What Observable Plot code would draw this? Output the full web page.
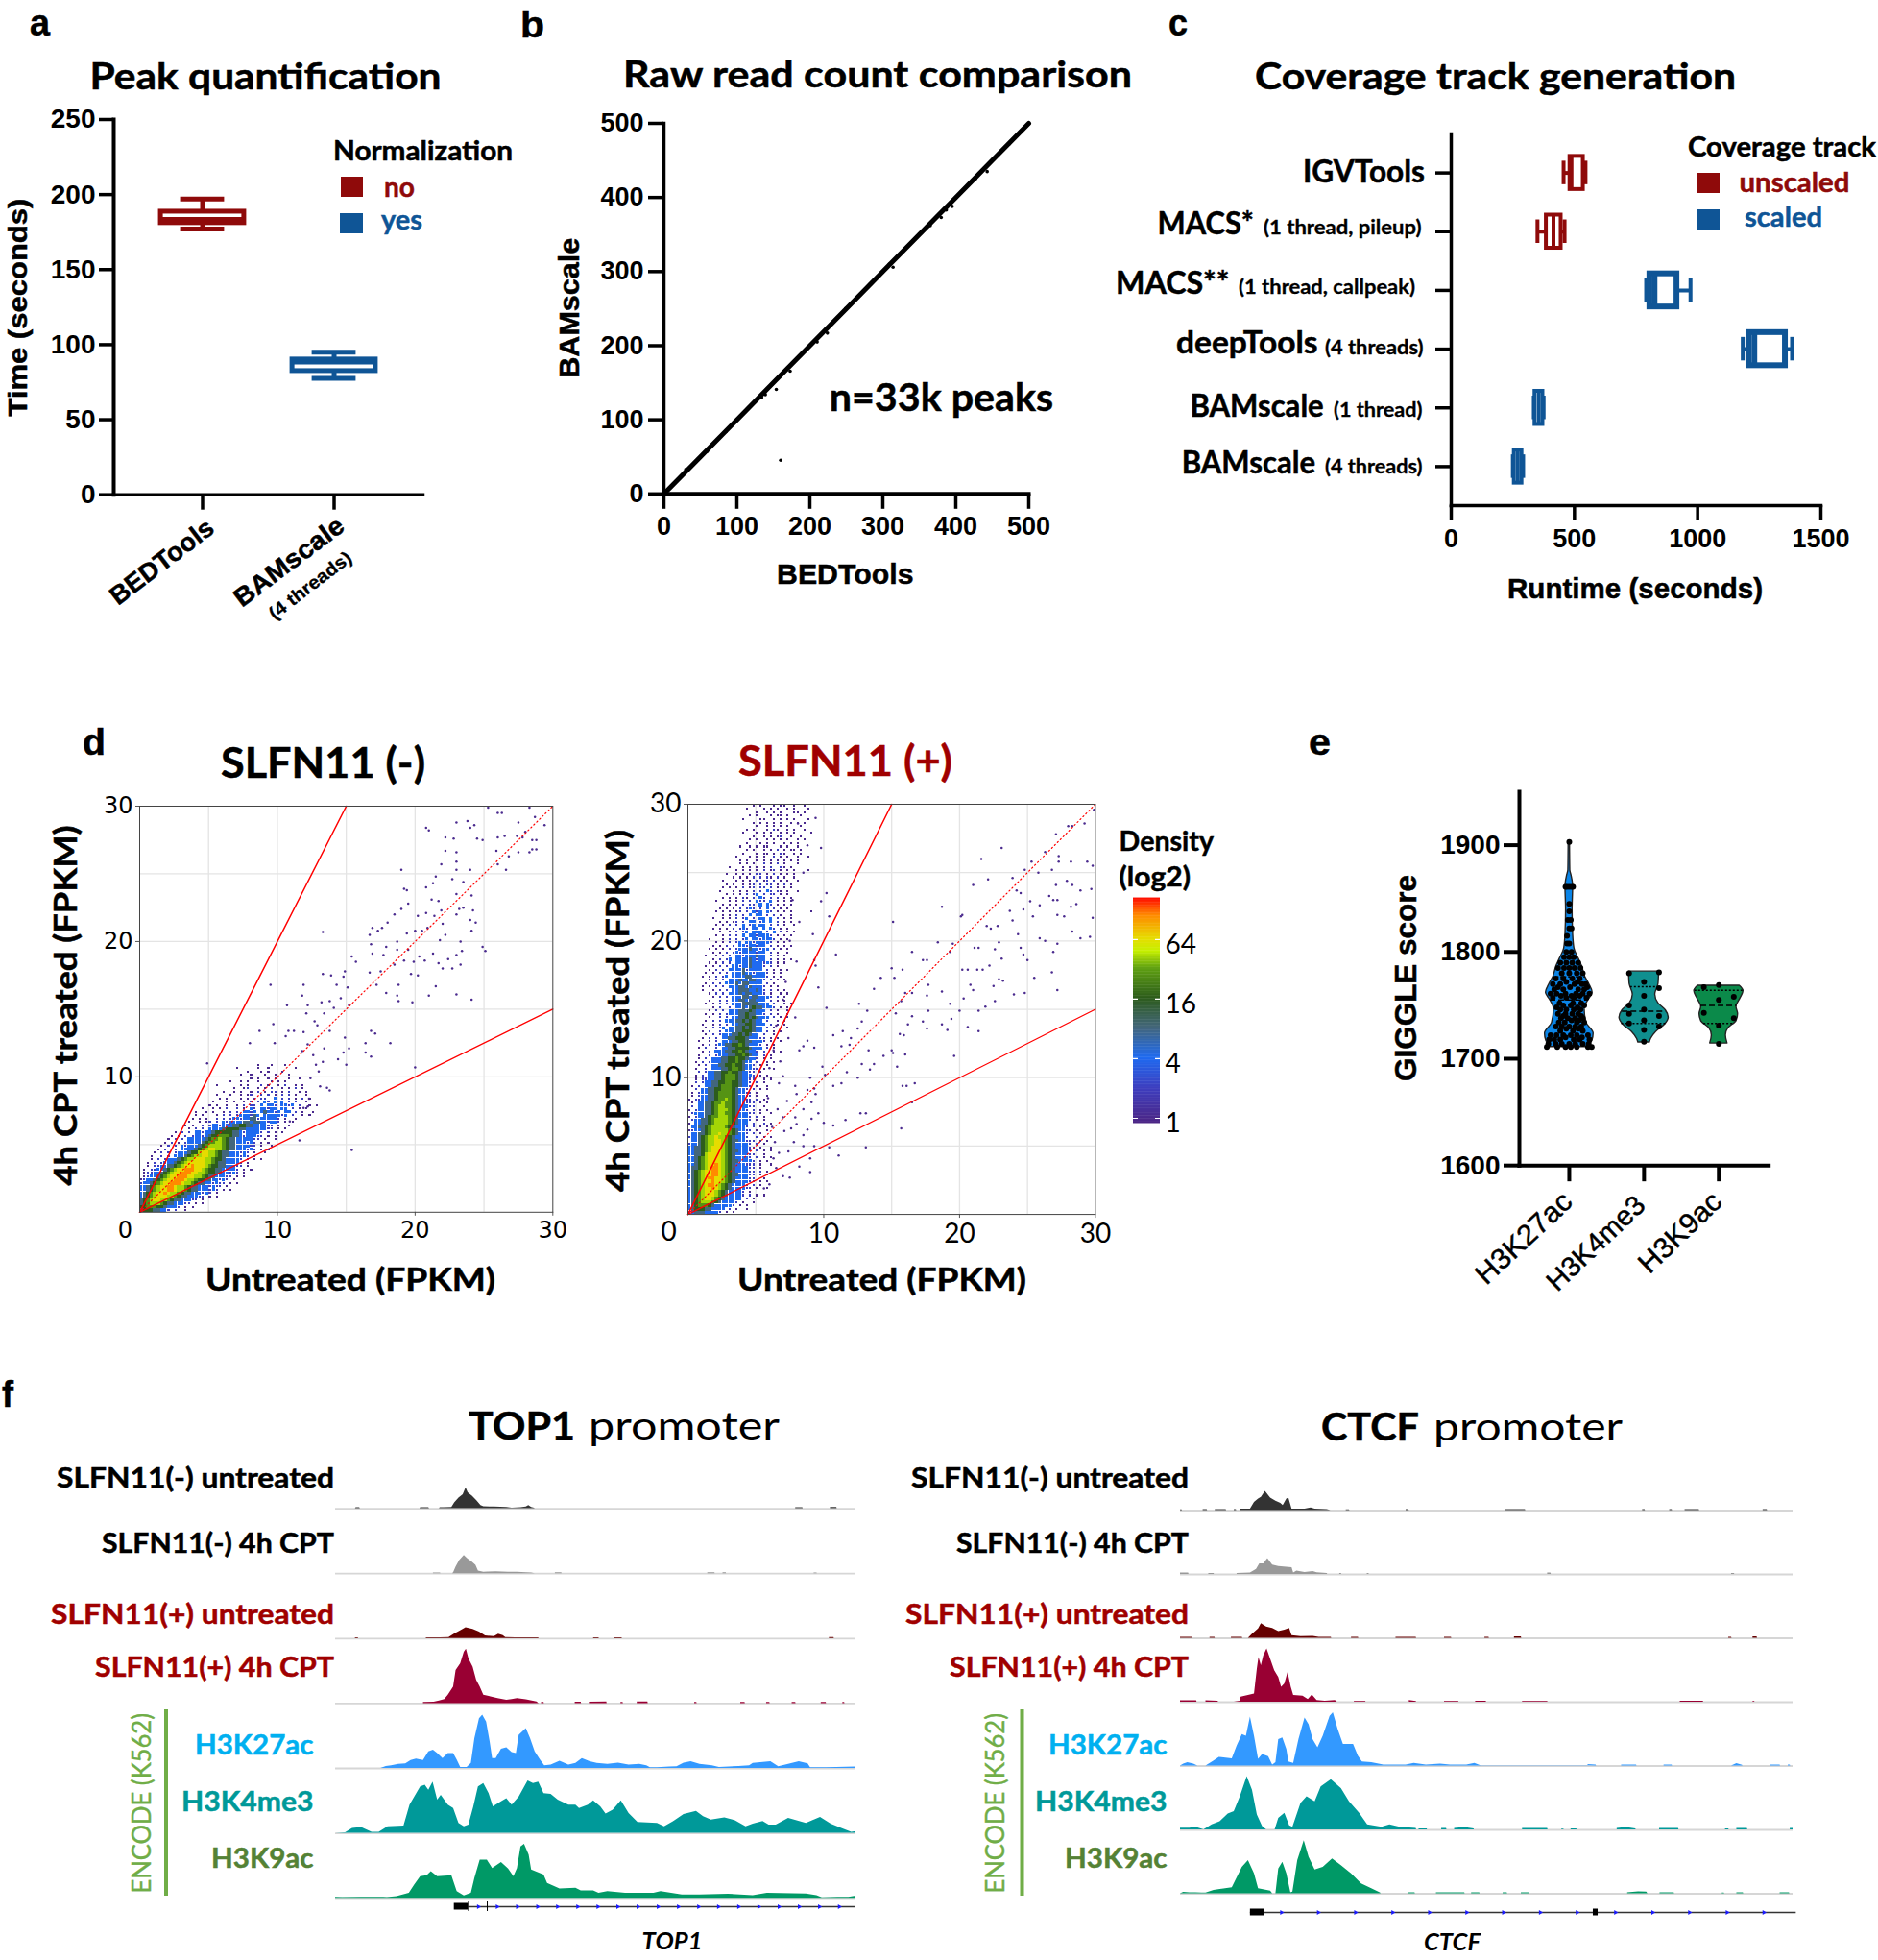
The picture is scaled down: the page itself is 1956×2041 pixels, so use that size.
<!DOCTYPE html>
<html><head><meta charset="utf-8">
<script src="https://cdn.jsdelivr.net/npm/d3@7"></script>
<script src="https://cdn.jsdelivr.net/npm/@observablehq/plot@0.6"></script>
<style>html,body{margin:0;background:#fff}#page{position:relative;width:1956px;height:2041px;overflow:hidden;background:#fff}#page svg{position:absolute;overflow:visible;background:transparent}</style>
</head><body><div id="page"></div>
<script>
// ---------- a: peak quantification ----------
const peakTools=["BEDTools","BAMscale"];
const peakNorm=["no","yes"];
const peakMin=[177,77.6], peakQ1=[181,82.4], peakMed=[183.5,88.5], peakQ3=[188.6,90.1], peakMax=[197,95];
// ---------- b: read count comparison ----------
const diagBed=[0,50,100,150,200,250,300,350,400,450,500];
const diagBam=[0,50,100,150,200,250,300,350,400,450,500];
const countOutliers=[[154,141],[160,45.5],[173,165.6],[171,171],[134,130],[139,134],[224,217],[210,205],[314,306],[309,310],[380,373],[387,383],[395,388],[365,362],[443,435],[427,425],[473,472],[85,84],[59,57],[30,33],[249,250],[285,285]];
// ---------- c: coverage track generation ----------
const covTools=["IGVTools","MACS*","MACS**","deepTools","BAMscale1","BAMscale4"];
const covGroup=["unscaled","unscaled","scaled","scaled","scaled","scaled"];
const covMin=[456,350,791,1183,335,250], covQ1=[482,386,806,1208,340,256], covMed=[488,415,825,1230,355,270], covQ3=[536,446,916,1356,372,287], covMax=[545,460,971,1383,375,292];
// ---------- d: density scatter ----------
const densityLevels=[1,2,4,8,16,28,42,64,110];
const densityStops=[1,2,4,8,16,32,48,64,110,170];
const densityColors=["#4a2a8e","#3d3fc0","#1f6af0","#43667c","#2d5c1c","#5fa012","#c6f000","#e6dc00","#ff8a00","#ff0000"];
const densityTicks=[1,4,16,64];
const leftGrid=[
"..................................1...1...1......",
"............................1.....1..1.......1..",
"...............................1...1.1...1......",
".............................1..1...1..1...1....",
"................................1.1..1.1...1..1.",
"..........................1..1.1..1...1.1.1.....",
"......................1......1.1...2.1..1.2..1.1",
"...........................1..12..1.1.2..1.1.2.1.",
"........................1..1.1..1.2.1.22.1.2..1.1",
"......................1...1..1.12..2.2.1.2.2.1..1",
".......................1.1...1.1.2.22..3.2.2.1.2.1",
".....................1...1.1..1.2.2.32.3.3.2.2..1",
"....................1.1..1..1.2.22.3.332.3323.2..1.1",
"..................1..1.1.2..2.1.32.33233.33.2.1.1",
"................1..1.1..1.2.2.3323.343323.33.2.1..1",
"................1.1...1.2.2.2333243.3333323.2..1.1",
"...............1.1.1..2.2.233233442333332.1..1",
"..............1..1.12.2.32333344344332332.1.1",
".............1.1..2.2332333445544333322.1..1",
"..............1.2.2.3333455554433333322.1.1",
"..........1.2.2.33233455555443233332.2.1.1",
".........1.1.2.233234556665443233322.1.1",
"........1.2.2.333334566765443333322.1..1",
".......1.2.1.233334566776544333232.1.1",
"......1.2.2.3233345677776544333322.1..1",
".....1.2..2.33334567887765443332 32.1.1",
"....1.2.2.2333455788776544333232.1..1",
"...1..2.2.3334567788776544333232.1",
"...1.2.2333456778887765543333 2.2.1.1",
"..1.2.233345678888877654433332.1",
"..1.22334456788988876554433322.1",
".1.22334567889998876554433332.1.1",
".1223345678899988776554433232.1",
".1233456788999887765443332 2.1.1",
"12334567889998776554433232.1",
"23345678899987765443323 22.1.1",
"33456788998776544333 2322.1",
"33456788998776544333232.1.1",
"3456788987765443332 32.1",
"34567888776544333 22.1.1",
"4567887765443332 2.1",
"456777654433322.1.1",
"556665543332.1.1",
"455544332.2..1"
].map(s=>s.replaceAll(" ",""));
const rightGrid=[
"...................1.1...1.11..1..1..",
".................1....1.1.1..1.1...1.",
"....................1..1.1.1...11.1..",
"..................1.1...1.11.1...1...",
"................1....11..1.1.1.1...1.",
"...................1.1.1.1.1..1.1.1..",
"....................1..1.1.1.1...1...",
".................1.1...1.21..1.1..1..",
"................1...1.1.1..1.1.1....1",
"...................1..1.1.12..1..1...",
"..................1.1..1.1.1.1..1.1..",
".................1...1.1.1..1.1.1....",
"...............1..1.1.11...1.1..1....",
".................1.1..1.1.2.1.11.1...",
"................1...1.11.1.21..1.1...",
"..............1...1.1.1..2.1.1..1..1.",
"...............1.1..1.1.1.1.1.1.1....",
"...............1.1.1..2.1.2.1...1....",
"............1...1.1.1.1.2..21.1......",
"..............1.1.1.1.2.12.1.1.1...1.",
"...........1..1.1.1.22.1.2.1.1.1.....",
".............1.1.1.2.2.21.2.1..1.....",
"..........1...1.1.1.2.12.2.1.1..1....",
"...........1.1..1.12.2.22.1.2.1......",
"..........1.1.1.2.12.22.2.1.1.1......",
".........1...1.1.1.2.2.32.21.1..1....",
"...........1.1.1.2.23.2.22.1.1.......",
"..........1.1.1.21.2.32.2.2.1.1......",
"........1...1.1.2.2.322.3.1.1.1......",
"..........1.1.1.2.22.3.32.1.1.1......",
".........1.1.1.2.232.2.3.2.1.1.......",
"........1.1.1.12.2.323.32.1.1.1.....1",
"..........1.1.2.2.3.33.2.2.1..1......",
".......1..1.1.2.23.2.33.3.2.1.1......",
".........1.1.12.2.33.23.3.2.1.1......",
"........1.1.2.2.3.23.33.2.2.1..1.....",
".......1.1.1.2.232.33.3.32.1.1.......",
".........1..1.2.23.333.2.3.2.1.1.....",
"........1.1.2.2.3.3323332.1.1.1......",
"......1...1.2.2.23.3323332.1.1.......",
"........1.1.2.23.33233332.1.1........",
".......1.1.2.2.33233233.2.1.1.1......",
"......1.1.1.2.2333433233.2.1.1.......",
".......1.1.2.2323333233.2.1..1.......",
".....1..1.2.2.332333433.2.1.1........",
".......1.2.23.333343233.2.1.1.1......",
"......1.1.2.2.33334333232.1.1........",
".....1.1.2.2.3323343332.2.1..........",
"......1.2.2.3333423333.2.1.1.1.......",
".....1.1.2.2.33343323332.1.1.........",
"....1.1.2.23.33334433332.1.1.........",
"......1.2.2.33343344332.2.1.1........",
".....1.2.2.33343443333.2.1...........",
"....1.1.2.2.3334434333 2.1.1.........",
"....1..1.2.2.3344433432.2.1.1........",
"......1.2.2.33343443332.1..1.1.......",
".......1.2.2.333443443332.2.1........",
"......1..2.2.3344344333.2.1.1........",
".....1.1.2.2.33344444333.2..1.1......",
".......1.2..2.334345443332.1.1.......",
"......1.2.2.33344454333.2.1..1.......",
".....1.1.2.233344544332.2.1..1.......",
"......1..2.2.33445454333.2.1.1.......",
".....1.2.2.33344545433.2..1.1........",
"....1..1.2.2.3344554333.2.1.1........",
".....1.2.23.3344545433.2.1...1.......",
"....1.2..2.33344555433.2.1.1.........",
".....1.2.233344545433.2..1...........",
"....1.2.2.3344555433322.1.1..........",
"...1..1.2.3334455443332.1..1.........",
"....1.2.23344556543332.1.1...........",
"...1.2..2.334455554333.2.1...........",
"....1.2.3334455654332.2..1.1.........",
"...1..2.2333445565433.2.1............",
"...1.2.33344556554332.1.1............",
"..1.2.2333445565433.2..1.1...........",
"...1.2.3344556554332.1.1.............",
"..1..2.33344566543322.1..1...........",
"...2.233445565543322.1...............",
"..1.2.33445666543332.1.1.............",
"..1.2233445666543322..1.1............",
"..2.233445566554332.2.1..............",
".1.2.33445666554332.1..1.............",
"..2.33445566654332.2.1.1.............",
".1.2334456666543322.1................",
".1.2334456666543322.1..1.............",
"1.22334456676543322.2.1..............",
".1.33445667665433222.1.1.............",
".2.33445677665433322..1..............",
"1.2334456777654332.2.1.1.............",
".2333445677665433322.1..1............",
"1.23345667776543332.2.1..............",
".233445677776543332.1.1..............",
"1.3344567777654333.2..2.1............",
".33445677776543332.2.1.1.............",
"1233456777776543322.1..1.............",
".33445677877654332.2.1...............",
"233456778776543332..2.1.1............",
".3345677887654433222.1.1.............",
"2334567788765433332.2.1..............",
"33445678887654333322.1..1............",
"3344567888765443332.2.1.1............",
"33445788887654333322..1..............",
"3345678888765433332.2.1.1............",
"33456788887654433332.1.1.............",
"33456788987654333222.1..1............",
"34456789987654333322.1...............",
"34567889987654333322.2.1.............",
"34567889987654433322.1.1.............",
"34567899887654333322..1..............",
"34567889887654333322.1.1.............",
"3456789987654333 32.2.1..............",
"3456788987654333322.1..1.............",
"345678887654333 32.1.................",
"34567888765433332.2.1.1..............",
"3456788765433333.2.1.................",
"345677765433332.1..1.................",
"34566654333332.1.1...................",
"34555443333.2.1..1...................",
"3344433332.1.1......................."
].map(s=>s.replaceAll(" ",""));
const leftDots=[[25.3,29.9],[26,29.5],[26.3,29.5],[28.3,29.9],[28.7,29.2],[29.4,28.6],[23.8,28.9],[24.3,28.6],[24,28.4],[23,28.8],[20.8,28.4],[21,28.2],[22.2,27.7],[22.8,27.6],[24.5,27.6],[24.9,27.5],[26,27.7],[26.5,27.8],[27.5,28.8],[28,28.1],[27.4,27.8],[27.8,27.7],[28.5,27.5],[28.8,27.5],[28.5,26.8],[28.8,26.8],[28.3,26.6],[27.5,26.6],[25.9,26.7],[26.8,26.3],[26,25.7],[26.6,25.3],[23,26.6],[22.2,26.7],[21.9,25.7],[23,25.9],[23,25.3],[19,25.3],[21.5,24.8],[21.3,24.3],[20.8,24],[23.5,24.4],[24,25.3],[22.7,24.6],[23,23.5],[24.1,23.4],[23.5,22.5],[23.2,22.4],[24.2,22.3],[23,22],[24.4,21.4],[24,21.6],[24.1,20.8],[23.3,20],[22,21.3],[22.2,20.5],[21.8,20.1],[21.2,23.1],[21.7,23],[20.8,22.1],[21.9,22.3],[21.4,21.9],[20.9,21],[20.2,21.9],[19.5,22.8],[19,22.4],[18.5,22],[19.2,23.9],[19.4,23.8],[18,21.4],[17.6,21],[16.9,21],[16.7,20.5],[17.3,20.8],[18.7,20],[19.4,20.6],[20,20.8],[20.5,20.8],[16.8,19.8],[16.9,19.1],[17.9,19.6],[15.4,18.9],[15.7,18.5],[18.7,19.4],[19.5,19.4],[17.7,19],[18.5,18.3],[19.2,18.6],[19.9,18.5],[20.3,18.9],[20.7,18.6],[21.3,19.1],[21.7,18.4],[22,18],[22.7,18],[22.4,18.7],[23,19],[23.4,19.3],[24.9,19.6],[25.1,19.3],[23.3,18.3],[20.2,17.5],[19.7,17.6],[17.5,17.8],[16.7,17.7],[18.8,16.8],[17.9,16.2],[18.7,16],[18.8,15.6],[21.5,16.7],[21,16],[23,16.1],[24.1,15.7],[19.8,15.5],[17.2,16.8],[14.9,17.8],[13.9,17.5],[13.3,17.6],[13.3,20.7],[11.9,16.8],[9.5,16.8],[10.7,15.3],[11.8,16],[12.2,15.3],[12.1,14.7],[13.2,15.5],[13.8,15.6],[14.3,16.8],[14.8,17.4],[15.1,16.6],[14.6,15.8],[15.2,15.3],[14.1,15.1],[13.4,14.7],[12.7,14.1],[12.9,13.8],[13.8,13.4],[11.9,13.3],[11.2,13.4],[10.8,13.4],[8.7,13.4],[9.7,13.9],[8,12.5],[9.8,12.5],[10.6,13],[14.9,12.9],[16.4,12.5],[16.8,13.4],[17.1,13.2],[18.2,12.5],[16.4,11.8],[16.8,11.5],[15.2,12.1],[14.8,11.8],[14.4,11.3],[15,10.9],[13.4,12.1],[13.3,11.1],[12.2,12.4],[20,10.7],[4.9,11],[15.4,4.6],[11.6,5.3],[10.9,6.7],[13.8,9],[13.6,9.2],[13.1,9.3],[12.3,8.4],[12.2,7.8],[11.9,7.7],[12.6,11.6],[11.8,11.9],[13,10.4],[12.4,9.9],[12.8,10.9]];
const rightDots=[[23.1,26.8],[21.6,26],[22.1,24.5],[21,24.1],[20.1,21.8],[20.2,21.9],[18.7,22.5],[15.1,21.4],[16.5,19.2],[18.4,19.9],[19.5,19.8],[19.3,19.2],[27.1,27.8],[28,28.4],[28.3,28.4],[29.2,28.6],[29.9,29.6],[24.8,25.2],[25.3,25.8],[26.3,26.5],[27.3,26.2],[27.3,25.8],[28.2,25.8],[29.4,25.8],[29.8,25.5],[23.9,24.6],[24.2,23.7],[24.5,23.5],[25.8,25],[26.8,25.2],[27.1,24.1],[27.9,24.4],[28.3,24.1],[28.9,23.7],[29.7,23.8],[29.8,21.7],[25.2,22.9],[24.7,22.3],[23.7,22.2],[23.9,21.5],[25.4,21.8],[25.9,22.6],[26.6,23.3],[26.9,23],[27.2,23],[27.2,21.9],[27.7,21.8],[28.6,22.7],[28.2,22.5],[28.3,20.7],[28.9,20.2],[29.6,20.3],[25.9,20.2],[26.3,20],[27.2,19.8],[26.9,19.2],[24.3,20.5],[22.8,21.1],[22,21.1],[22.3,20.9],[22.9,19.9],[22.6,19.4],[21.4,19.5],[21.1,19.5],[24.5,19.5],[24.7,19],[25,18.6],[23.1,18.7],[22.2,18.2],[21.7,17.9],[21.3,17.9],[20.6,17.9],[20.2,17.9],[26.8,17.7],[25.5,17.3],[27.2,16.4],[22.9,17.2],[23.2,17.1],[22.5,16.7],[24.8,16.2],[24,16.1],[22.6,15.6],[21.9,15.2],[21.4,14.9],[21,16.4],[20.3,15.8],[20.8,16.8],[20,14.9],[19.3,15.4],[18.7,16.3],[17.7,16.8],[17.3,18.6],[17.6,18.6],[15.8,17.9],[15,18],[15.2,17.3],[14.2,17.3],[13.7,16.5],[17.6,16],[16.5,16.2],[16,16.2],[15.7,15.6],[12.6,15.4],[13.2,14.9],[17.7,14.9],[16.5,14.5],[16.2,13.9],[15.3,14.7],[17.3,14.1],[17.6,13.6],[18.7,13.9],[19.1,13.5],[19.4,14.3],[20.6,13.7],[21.4,13.4],[19.6,11.6],[15.9,13.1],[15.6,13.2],[16,11.7],[15,12],[15.1,11.8],[14.4,11.6],[12.5,13.6],[12.8,14.1],[11.4,13.4],[10.7,13.1],[12,12.9],[8.8,12.7],[9.3,12.2],[11.3,12.3],[11.9,12.4],[13.3,12],[13.7,11],[13.4,10.6],[12.8,11],[12.5,10],[11.7,10.4],[11.3,9.6],[10.7,9.4],[9.9,10.8],[10.1,10.2],[9,10],[15.4,10.8],[15.8,9.4],[16.7,9.6],[16.1,9.4],[16.5,8.2],[15.7,6.3],[13.1,7.4],[12.7,7.4],[13.1,4.9],[11.1,4.3],[11.6,6.9],[10.7,6.5],[10,6.7],[9.6,7.4],[10.4,4.9],[9.3,5],[9,4.1],[9,3.1],[9.1,8.2],[9.1,7],[9.4,8.8],[9.3,9.2],[10.4,21.8],[9.8,22.9],[10.2,23.5],[10.9,19],[9.8,26.8],[9.4,29],[9.4,18.2],[9.6,16.6],[10.2,15.1],[9.3,18.6],[9.2,20.5],[7.9,9.4],[7,10.1],[6.7,9.6],[5.9,8.5],[8.5,7.7],[7.9,7.1],[7.6,6.3],[7,7.1],[8.5,5.8],[7.8,5.3],[7.1,6.1],[8.5,5],[6.4,5.3],[6.7,4.5],[8.2,3.5],[7.5,2.7],[7,2.8],[8.2,12],[8.5,12.3],[7.9,14.4],[6.5,3.4],[6,2.2],[5.6,1.9],[6.2,6.4],[6.6,7.7],[7.3,8.3],[8,8.8],[8.8,9.1],[6.8,11.2],[7.4,12.9],[6.5,13.8],[7,15.7],[7.2,17],[8,18.5],[7.5,20],[8.2,21.4],[7.7,23],[8.5,25],[8.8,27],[8.1,28.6],[6.3,4.1],[7.4,4.6],[8,6.6],[8.8,6.2],[6,10.7],[6.3,12]];
// ---------- e: GIGGLE scores ----------
const histoneMarks=["H3K27ac","H3K4me3","H3K9ac"];
const violinK27Val=[1903.6,1876.4,1871.4,1861.5,1839.9,1816.6,1803.3,1793.4,1786.7,1776.7,1770.1,1761.8,1755.1,1746.8,1733.6,1723.6,1716.9,1711];
const violinK27Half=[.009,.013,.03,.051,.043,.051,.068,.128,.171,.214,.265,.312,.257,.205,.231,.325,.308,.257];
const violinK4Val=[1781.7,1770.1,1760.1,1751.8,1745.2,1738.5,1731.9,1725.2,1718.6,1715.3];
const violinK4Half=[.201,.193,.15,.193,.291,.329,.278,.163,.094,.077];
const violinK9Val=[1768.4,1763.5,1756.8,1748.5,1741.9,1735.2,1728.6,1721.9,1714.3];
const violinK9Half=[.278,.329,.291,.235,.257,.235,.128,.094,.116];
const quartileK27=[1728.6,1755,1776.7], quartileK4=[1733,1744.5,1767.4], quartileK9=[1733,1750,1764];
const quartileK27Half=[.15,.257,.214], quartileK4Half=[.3,.29,.18], quartileK9Half=[.2,.24,.32];
const k27Rows=[[1903,[0]],[1861,[-.03,.03,0,.05,-.05]],[1845,[0]],[1838,[0]],[1830,[-.02,.02]],[1822,[0,.03]],[1815,[-.03]],[1808,[0,-.03]],[1800,[.03,-.04]],[1795,[-.07,.06,0]],[1790,[-.12,-.04,.04,.12]],[1785,[-.15,-.07,0,.07,.15]],[1780,[-.1,0,.1,.18]],[1775,[-.18,-.08,.04,.14]],[1772,[-.04,.11]],[1770,[-.22,-.12,.07,.17,.22]],[1767,[-.15,.01,.24]],[1765,[-.2,-.08,.12,.2]],[1761,[-.25,-.17,-.05,.09,.18,.27]],[1759,[-.11,.03,.14]],[1757,[-.22,-.04,.06,.23]],[1752,[-.13,.05,.16]],[1750,[-.08,.02,.2]],[1748,[-.17,.11]],[1746,[-.12,-.04,.06,.15]],[1742,[-.15,-.05,.04,.12]],[1740,[-.08,.16]],[1738,[-.11,-.02,.08,.18]],[1736,[.03,.13]],[1734,[-.14,-.06,.1,.2]],[1730,[-.18,-.1,0,.08,.16]],[1728,[-.04,.12]],[1726,[-.12,.05,.18]],[1722,[-.25,-.17,-.08,.02,.1,.25]],[1720,[-.05,.17]],[1718,[-.27,-.2,-.12,.06,.14,.27]],[1714,[-.28,-.18,-.1,0,.08,.18,.26]],[1711,[-.3,-.16,-.05,.02,.1,.25,.3]]];
const k4Points=[[-.2,1780],[.2,1781],[0,1772],[.2,1766],[0,1759],[-.2,1750],[-.2,1742],[0,1746],[.2,1740],[0,1736],[-.2,1733],[.2,1730],[0,1727],[0,1716]];
const k9Points=[[-.2,1767],[0,1769],[.2,1758],[0,1755],[-.2,1743],[.2,1738],[0,1731],[0,1714]];
// ---------- f: genome browser tracks ----------
const trackNames=["neg-untreated","neg-CPT","pos-untreated","pos-CPT","H3K27ac","H3K4me3","H3K9ac"];
const topNegUntreated=[[22,0],[78,0],[80,3],[90,3],[92,0],[260,0],[262,3],[285,3],[287,0],[315,0],[317,3],[328,3],[350,4],[358,18],[370,32],[382,42],[390,63],[396,48],[408,38],[420,25],[432,10],[440,6],[470,5],[505,4],[520,2],[545,3],[560,5],[567,10],[575,4],[583,2],[585,0],[1320,0],[1320,3],[1340,3],[1341,0],[1418,0],[1418,4],[1436,4],[1437,0],[1490,0]];
const topNegCPT=[[22,0],[298,0],[298,2],[318,2],[319,0],[352,0],[355,3],[362,20],[372,40],[385,55],[395,45],[408,35],[418,25],[425,8],[440,4],[452,5],[475,6],[510,4],[535,4],[560,3],[575,2],[585,0],[642,0],[642,3],[660,3],[661,0],[1072,0],[1072,3],[1092,3],[1093,0],[1115,0],[1115,3],[1124,3],[1125,0],[1372,0],[1372,2],[1380,2],[1381,0],[1490,0]];
const topPosUntreated=[[22,0],[78,0],[78,2],[86,2],[87,0],[278,0],[278,2],[318,2],[342,3],[358,14],[372,22],[390,33],[410,28],[428,20],[445,8],[470,6],[482,13],[495,9],[502,3],[530,2],[595,2],[596,0],[750,0],[750,2],[765,2],[766,0],[808,0],[808,2],[830,2],[831,0],[1415,0],[1415,3],[1428,3],[1429,0],[1490,0]];
const topPosCPT=[[22,0],[270,0],[270,3],[300,4],[315,8],[330,12],[340,25],[355,50],[362,100],[375,120],[385,155],[391,164],[398,135],[410,110],[420,70],[430,50],[440,25],[460,20],[480,15],[505,10],[520,12],[535,15],[560,11],[590,5],[596,0],[603,0],[603,3],[610,3],[611,0],[698,0],[698,4],[715,4],[716,0],[738,0],[738,4],[787,5],[788,0],[827,0],[827,3],[833,3],[834,0],[873,0],[873,5],[903,5],[904,0],[1035,0],[1035,3],[1041,3],[1042,0],[1165,0],[1165,3],[1177,3],[1178,0],[1238,0],[1238,3],[1247,3],[1248,0],[1310,0],[1310,3],[1320,3],[1321,0],[1392,0],[1392,3],[1406,3],[1407,0],[1453,0],[1453,3],[1458,3],[1459,0],[1490,0]];
const topK27=[[22,0],[150,0],[165,6],[180,8],[200,12],[220,14],[235,24],[250,28],[270,24],[285,50],[298,55],[310,45],[325,30],[340,45],[355,45],[365,25],[375,3],[393,3],[405,15],[415,90],[428,150],[437,161],[448,140],[458,80],[465,30],[475,30],[490,58],[505,62],[520,48],[532,45],[540,100],[560,120],[572,90],[585,50],[600,25],[612,8],[630,10],[655,22],[680,10],[700,15],[718,30],[740,20],[760,15],[790,12],[820,16],[850,10],[880,12],[900,8],[910,2],[930,2],[965,4],[985,5],[1005,16],[1025,20],[1050,12],[1085,8],[1105,3],[1160,6],[1190,8],[1200,15],[1250,20],[1272,5],[1300,12],[1330,20],[1355,14],[1362,2],[1408,2],[1490,4]];
const topK4=[[22,0],[50,2],[70,15],[95,18],[125,3],[145,3],[170,20],[215,22],[232,85],[262,140],[275,145],[285,130],[297,155],[310,100],[320,115],[340,85],[355,75],[370,30],[385,20],[398,25],[412,80],[425,140],[440,150],[455,120],[467,80],[490,95],[505,105],[520,85],[540,110],[565,158],[580,150],[595,155],[610,120],[630,118],[650,100],[680,85],[700,85],[710,75],[735,85],[750,98],[770,80],[785,58],[805,70],[828,98],[850,60],[875,33],[930,30],[950,20],[975,35],[1005,57],[1040,66],[1060,50],[1082,40],[1120,47],[1150,38],[1180,20],[1200,28],[1228,36],[1245,25],[1265,25],[1300,45],[1350,30],[1390,48],[1420,28],[1450,15],[1478,3],[1490,5]];
const topK9=[[22,3],[42,2],[95,3],[158,3],[168,2],[195,5],[230,15],[245,40],[262,65],[280,68],[292,80],[310,65],[350,68],[365,20],[385,7],[405,15],[415,60],[430,115],[450,115],[465,90],[490,108],[510,88],[525,65],[535,90],[545,155],[555,163],[568,130],[575,85],[610,70],[620,45],[655,28],[700,30],[715,22],[750,22],[765,15],[790,20],[840,15],[920,15],[940,20],[1000,10],[1050,10],[1130,12],[1200,8],[1240,15],[1350,13],[1380,8],[1395,1],[1440,3],[1470,3],[1490,6]];
const ctcfNegUntreated=[[22,0],[22,2],[26,2],[27,0],[78,0],[78,3],[88,3],[89,0],[108,0],[108,3],[135,3],[136,0],[155,0],[155,3],[160,3],[161,0],[170,0],[170,4],[195,4],[205,25],[215,35],[222,40],[232,58],[245,38],[258,28],[270,22],[276,15],[285,35],[290,38],[298,4],[330,4],[345,8],[355,4],[385,3],[394,0],[432,0],[432,2],[440,2],[441,0],[580,0],[580,3],[587,3],[588,0],[826,0],[826,3],[875,3],[876,0],[1165,0],[1165,3],[1171,3],[1172,0],[1232,0],[1232,3],[1238,3],[1239,0],[1270,0],[1270,3],[1305,3],[1306,0],[1463,0],[1463,3],[1473,3],[1474,0],[1537,0]];
const ctcfNegCPT=[[22,0],[22,4],[42,4],[43,0],[92,0],[92,3],[105,3],[106,0],[162,0],[162,3],[195,4],[210,15],[218,32],[228,32],[238,48],[250,28],[265,24],[298,20],[302,4],[310,10],[330,6],[350,9],[360,5],[385,3],[386,0],[416,0],[416,3],[420,3],[421,0],[484,0],[484,3],[488,3],[489,0],[930,0],[930,4],[938,4],[939,0],[1385,0],[1385,3],[1392,3],[1393,0],[1537,0]];
const ctcfPosUntreated=[[22,0],[22,3],[52,3],[53,0],[95,0],[95,3],[107,3],[108,0],[148,0],[148,3],[175,3],[176,0],[190,0],[200,12],[215,28],[222,44],[235,34],[250,30],[265,20],[280,25],[292,30],[298,8],[320,5],[350,6],[365,3],[395,3],[396,0],[445,0],[445,3],[462,3],[463,0],[555,0],[555,3],[605,3],[606,0],[675,0],[675,3],[692,3],[693,0],[775,0],[775,3],[785,3],[786,0],[848,0],[848,4],[865,4],[866,0],[1378,0],[1378,3],[1385,3],[1386,0],[1438,0],[1438,4],[1448,4],[1449,0],[1537,0]];
const ctcfPosCPT=[[22,0],[22,4],[62,4],[63,0],[85,0],[85,4],[115,3],[116,0],[155,0],[170,3],[172,15],[190,20],[205,25],[212,100],[216,135],[222,110],[228,140],[236,161],[245,130],[255,95],[265,75],[272,45],[280,55],[288,90],[296,45],[302,20],[325,18],[338,8],[348,22],[360,5],[380,3],[405,5],[410,0],[452,0],[452,2],[480,2],[481,0],[588,0],[588,5],[605,2],[606,0],[675,0],[675,2],[710,2],[711,0],[752,0],[752,3],[778,3],[779,0],[868,0],[868,2],[930,2],[931,0],[1258,0],[1258,3],[1315,3],[1316,0],[1438,0],[1438,2],[1442,2],[1443,0],[1537,0]];
const ctcfK27=[[22,0],[30,6],[40,10],[55,6],[65,0],[85,0],[105,15],[118,26],[150,22],[162,60],[175,95],[185,90],[195,148],[205,90],[215,20],[225,35],[240,28],[250,3],[258,10],[265,80],[275,85],[285,50],[290,12],[302,8],[315,80],[330,145],[340,125],[350,80],[362,55],[375,90],[392,150],[400,161],[412,110],[425,65],[450,65],[462,30],[472,12],[495,10],[525,3],[540,3],[580,3],[600,8],[630,3],[665,6],[690,3],[730,3],[750,8],[765,1],[1030,1],[1030,3],[1050,3],[1051,0],[1113,0],[1113,3],[1150,3],[1151,0],[1218,0],[1218,3],[1238,3],[1239,0],[1385,0],[1398,7],[1412,2],[1413,0],[1480,0],[1480,3],[1505,3],[1506,0],[1525,0],[1525,3],[1530,3],[1531,0],[1537,0]];
const ctcfK4=[[22,5],[45,5],[60,8],[75,2],[80,0],[100,15],[120,25],[140,48],[155,55],[170,100],[187,161],[200,120],[212,45],[225,10],[235,0],[256,0],[265,35],[280,50],[292,12],[300,8],[320,80],[335,100],[355,85],[370,130],[395,152],[420,125],[440,85],[465,50],[485,15],[520,8],[540,15],[565,8],[605,4],[606,0],[612,0],[612,3],[632,3],[633,0],[668,0],[668,4],[680,4],[681,0],[700,0],[700,4],[725,7],[748,3],[749,0],[868,0],[868,4],[930,4],[931,0],[965,0],[965,2],[970,2],[971,0],[988,0],[988,3],[1002,3],[1003,0],[1102,0],[1102,4],[1125,7],[1148,3],[1149,0],[1207,0],[1207,4],[1254,4],[1255,0],[1370,0],[1370,3],[1378,3],[1379,0],[1398,0],[1398,4],[1424,4],[1425,0],[1530,0],[1530,4],[1537,4]];
const ctcfK9=[[22,0],[30,4],[45,3],[60,3],[75,2],[85,2],[105,10],[125,14],[150,18],[165,55],[175,80],[190,100],[205,60],[215,15],[245,8],[250,0],[258,0],[265,75],[275,95],[285,60],[295,3],[300,5],[312,100],[328,160],[340,110],[355,72],[375,80],[398,105],[420,85],[445,60],[470,30],[495,15],[517,2],[518,0],[585,0],[585,3],[602,3],[603,0],[655,0],[655,3],[725,3],[726,0],[742,0],[742,3],[762,3],[763,0],[820,0],[820,3],[830,3],[831,0],[865,0],[865,3],[885,3],[886,0],[1128,0],[1128,3],[1155,6],[1175,5],[1178,0],[1208,0],[1208,3],[1243,3],[1244,0],[1362,0],[1362,2],[1367,2],[1368,0],[1398,0],[1398,3],[1414,3],[1415,0],[1505,0],[1505,3],[1528,3],[1529,0],[1537,0]];
const topArrows=[425,478,535,592,648,705,762,818,875,932,989,1046,1102,1159,1216,1273,1330,1387,1443];
const ctcfArrows=[272,363,455,547,638,730,821,912,1003,1098,1190,1281,1374,1465];

// ---------- styles ----------
const DARKRED="#8f0a0a", BLUE="#0f5596", ARIAL="Liberation Sans", LATO="Lato";
const trackColors=["#333333","#999999","#660000","#990033","#3399ff","#009999","#009966"];
const violinColors=["#0a84e6","#0f8f8f","#0b8a4a"];

const page=document.getElementById("page");
function panel({l,r,t,b,ml=70,mr=30,mt=10,mb=60,font=ARIAL,size=27,weight="bold",heavy=false,...opts}){
  const p=Plot.plot({width:r-l+ml+mr,height:b-t+mt+mb,marginLeft:ml,marginRight:mr,marginTop:mt,marginBottom:mb,
    style:{fontFamily:font,fontSize:size+"px",fontWeight:weight,background:"transparent",color:"#000"},...opts});
  p.style.left=(l-ml)+"px"; p.style.top=(t-mt)+"px";
  if(heavy) p.style.webkitTextStroke=".5px #000";
  page.appendChild(p); return p;
}
const frameL=(w)=>Plot.frame({anchor:"left",stroke:"#000",strokeWidth:w});
const frameB=(w)=>Plot.frame({anchor:"bottom",stroke:"#000",strokeWidth:w});

// panel a
const peakRows=peakTools.map((tool,i)=>({tool,norm:peakNorm[i],min:peakMin[i],q1:peakQ1[i],med:peakMed[i],q3:peakQ3[i],max:peakMax[i]}));
panel({l:118,r:440,t:123.6,b:514.3,size:28,heavy:true,
  x:{type:"band",domain:peakTools,paddingInner:.33,paddingOuter:.34,round:false,axis:null},
  y:{domain:[0,250],axis:null},
  color:{domain:peakNorm,range:[DARKRED,BLUE]},
  marks:[
    Plot.axisY({ticks:[0,50,100,150,200,250],tickSize:15,tickPadding:4,strokeWidth:3.5,label:null}),
    Plot.axisX({tickFormat:()=>"",tickSize:16,strokeWidth:3.5,label:null}),
    frameL(4),frameB(3.5),
    Plot.ruleX(peakRows,{x:"tool",y1:"min",y2:"max",stroke:"norm",strokeWidth:5}),
    Plot.tickY(peakRows,{x:"tool",y:"min",stroke:"norm",strokeWidth:5,insetLeft:23,insetRight:23}),
    Plot.tickY(peakRows,{x:"tool",y:"max",stroke:"norm",strokeWidth:5,insetLeft:23,insetRight:23}),
    Plot.barY(peakRows,{x:"tool",y1:"q1",y2:"q3",fill:"white",stroke:"norm",strokeWidth:5,insetLeft:2.5,insetRight:2.5}),
    Plot.tickY(peakRows,{x:"tool",y:"med",stroke:"norm",strokeWidth:5,insetLeft:2.5,insetRight:2.5})
  ]});

// panel b
const diagRows=diagBed.map((x,i)=>({x,y:diagBam[i]}));
panel({l:691,r:1071,t:127.7,b:513.5,size:27,heavy:true,
  x:{domain:[0,500],axis:null},y:{domain:[0,500],axis:null},
  marks:[
    Plot.axisY({ticks:[0,100,200,300,400,500],tickSize:16,tickPadding:5,strokeWidth:3.5,label:null}),
    Plot.axisX({ticks:[0,100,200,300,400,500],tickSize:16,tickPadding:8,strokeWidth:3.5,label:null}),
    frameL(3.5),frameB(4),
    Plot.line(diagRows,{x:"x",y:"y",stroke:"#000",strokeWidth:5,strokeLinecap:"round"}),
    Plot.dot(countOutliers,{x:d=>d[0],y:d=>d[1],r:1.8,fill:"#000"})
  ]});

// panel c
const covRows=covTools.map((tool,i)=>({tool,group:covGroup[i],min:covMin[i],q1:covQ1[i],med:covMed[i],q3:covQ3[i],max:covMax[i]}));
const boxStroke=d=>d.q3-d.q1>100?6:4;
panel({l:1511,r:1896,t:139,b:526,mr:60,heavy:true,
  x:{domain:[0,1500],axis:null},
  y:{type:"band",domain:covTools,paddingInner:.436,paddingOuter:.382,round:false,axis:null},
  color:{domain:["unscaled","scaled"],range:[DARKRED,BLUE]},
  marks:[
    Plot.axisY({tickFormat:()=>"",tickSize:16,strokeWidth:3.5,label:null}),
    Plot.axisX({ticks:[0,500,1000,1500],tickFormat:d=>String(d),tickSize:16,tickPadding:8,strokeWidth:3.5,label:null}),
    frameL(3.5),frameB(3.5),
    Plot.ruleY(covRows,{y:"tool",x1:"min",x2:"max",stroke:"group",strokeWidth:4}),
    Plot.tickX(covRows,{y:"tool",x:"min",stroke:"group",strokeWidth:4,insetTop:5,insetBottom:5}),
    Plot.tickX(covRows,{y:"tool",x:"max",stroke:"group",strokeWidth:4,insetTop:5,insetBottom:5}),
    Plot.barX(covRows,{y:"tool",x1:"q1",x2:"q3",fill:"white",stroke:"group",strokeWidth:boxStroke}),
    Plot.tickX(covRows,{y:"tool",x:"med",stroke:"group",strokeWidth:boxStroke})
  ]});

// panel d
const toCells=(rows,top,step)=>rows.flatMap((r,i)=>[...r].flatMap((c,j)=>c==="."?[]:[{x1:j*step,x2:(j+1)*step,y1:top-(i+1)*step,y2:top-i*step,v:densityLevels[+c-1]}]));
function densityPanel(frame,grid,top,dots,font,size,zeroDx,zeroDy){
  const cells=toCells(grid,top,0.25);
  panel({...frame,font,size,weight:"normal",
    x:{domain:[0,30],axis:null},y:{domain:[0,30],axis:null},
    color:{type:"log",base:2,domain:densityStops,range:densityColors},
    marks:[
      Plot.gridX([5,10,15,20,25],{stroke:"#e4e4e4",strokeOpacity:1,strokeWidth:1.3}),
      Plot.gridY([5,10,15,20,25],{stroke:"#e4e4e4",strokeOpacity:1,strokeWidth:1.3}),
      Plot.axisY({ticks:[10,20,30],tickSize:4,tickPadding:3,stroke:"#555",label:null}),
      Plot.axisX({ticks:[10,20,30],tickSize:4,tickPadding:6,stroke:"#555",label:null}),
      Plot.text([0],{x:0,y:0,text:()=>"0",dx:zeroDx,dy:zeroDy}),
      Plot.rect(cells,{filter:d=>d.v<=2,x1:"x1",x2:"x2",y1:"y1",y2:"y2",fill:"v",inset:.75,shapeRendering:"crispEdges"}),
      Plot.rect(cells,{filter:d=>d.v===4,x1:"x1",x2:"x2",y1:"y1",y2:"y2",fill:"v",inset:.2,shapeRendering:"crispEdges"}),
      Plot.rect(cells,{filter:d=>d.v>4,x1:"x1",x2:"x2",y1:"y1",y2:"y2",fill:"v",shapeRendering:"crispEdges"}),
      Plot.dot(dots,{x:d=>d[0],y:d=>d[1],r:1.25,fill:densityColors[0]}),
      Plot.line([[0,0],[30,30]],{x:d=>d[0],y:d=>d[1],stroke:"#ff0000",strokeWidth:1.2,strokeDasharray:"1.2,3"}),
      Plot.line([[0,0],[15,30]],{x:d=>d[0],y:d=>d[1],stroke:"#ff0000",strokeWidth:1.5}),
      Plot.line([[0,0],[30,15]],{x:d=>d[0],y:d=>d[1],stroke:"#ff0000",strokeWidth:1.3}),
      Plot.frame({stroke:"#444",strokeWidth:1})
    ]});
}
densityPanel({l:145.4,r:575.7,t:838.5,b:1261.3},leftGrid,11,leftDots,"DejaVu Sans",24,-15,19);
densityPanel({l:716,r:1140.4,t:836.5,b:1263.6},rightGrid,30,rightDots,LATO,28,-20,18);
// density colour bar
const rampSteps=d3.range(0,150).map(i=>0.884*Math.pow(167/0.884,i/150));
const rampRatio=Math.pow(167/0.884,1/150);
panel({l:1180,r:1208,t:935,b:1169.5,ml:0,mr:50,mt:0,mb:0,font:LATO,size:28,weight:"normal",
  x:{axis:null},y:{type:"log",base:2,domain:[.884,167],axis:null},
  color:{type:"log",base:2,domain:densityStops,range:densityColors},
  marks:[
    Plot.rect(rampSteps,{y1:d=>d,y2:d=>d*rampRatio*1.01,fill:d=>d}),
    Plot.ruleY(densityTicks,{stroke:"white",strokeWidth:1.2,strokeDasharray:"5,18,5"}),
    Plot.axisY({anchor:"right",ticks:densityTicks,tickFormat:d=>String(d),tickSize:0,tickPadding:5,dy:6,label:null})
  ]});

// panel e
const violinRows=(name,c,vals,half)=>vals.map((v,i)=>({name,c,v,w:half[i]}));
const violins=[...violinRows("H3K27ac",0,violinK27Val,violinK27Half),...violinRows("H3K4me3",1,violinK4Val,violinK4Half),...violinRows("H3K9ac",2,violinK9Val,violinK9Half)];
const qRows=(c,vals,half)=>vals.map((v,i)=>({c,v,w:half[i],mid:i===1}));
const quartiles=[...qRows(0,quartileK27,quartileK27Half),...qRows(1,quartileK4,quartileK4Half),...qRows(2,quartileK9,quartileK9Half)];
const swarm=[...k27Rows.flatMap(([v,offs])=>offs.map(o=>[o,v])),...k4Points.map(([o,v])=>[1+o,v]),...k9Points.map(([o,v])=>[2+o,v])];
panel({l:1582,r:1841.7,t:824.4,b:1213.6,ml:90,size:28,heavy:true,
  x:{domain:[-.667,2.667],axis:null},y:{domain:[1600,1950],axis:null},
  color:{domain:histoneMarks,range:violinColors},
  marks:[
    Plot.axisY({ticks:[1600,1700,1800,1900],tickFormat:d=>String(d),tickSize:16,tickPadding:4,strokeWidth:4,label:null}),
    Plot.axisX({ticks:[0,1,2],tickFormat:()=>"",tickSize:17,strokeWidth:4,label:null}),
    frameL(4),frameB(4),
    Plot.areaX(violins,{y:"v",x1:d=>d.c-d.w,x2:d=>d.c+d.w,z:"name",fill:"name",stroke:"#222",strokeWidth:1.4,curve:"monotone-y"}),
    Plot.ruleY(quartiles,{filter:d=>d.mid,y:"v",x1:d=>d.c-d.w,x2:d=>d.c+d.w,stroke:"#000",strokeWidth:1.5,strokeDasharray:"6,3"}),
    Plot.ruleY(quartiles,{filter:d=>!d.mid,y:"v",x1:d=>d.c-d.w,x2:d=>d.c+d.w,stroke:"#000",strokeWidth:1.5,strokeDasharray:"2,2"}),
    Plot.dot(swarm,{x:d=>d[0],y:d=>d[1],r:3,fill:"#000"})
  ]});

// panel f
function trackPanel(l,r,bottom,step,xmax,yMax,sets){
  const rows=sets.flatMap((arr,i)=>arr.map(([x,y])=>({x,y,track:trackNames[i]})));
  panel({l,r,t:bottom-7*step,b:bottom,ml:0,mr:0,mt:0,mb:0,
    x:{domain:[22,xmax],axis:null},y:{domain:[0,yMax],axis:null},
    fy:{domain:trackNames,padding:0,round:false,axis:null},
    color:{domain:trackNames,range:trackColors},
    marks:[
      Plot.ruleY([0],{stroke:"#d6d6d6",strokeWidth:1.8}),
      Plot.areaY(rows,{x:"x",y:"y",fy:"track",fill:"track"})
    ]});
}
trackPanel(349,891,1976.5,67.6,1490,196,[topNegUntreated,topNegCPT,topPosUntreated,topPosCPT,topK27,topK4,topK9]);
trackPanel(1229,1867,1971.6,66.5,1537,193,[ctcfNegUntreated,ctcfNegCPT,ctcfPosUntreated,ctcfPosCPT,ctcfK27,ctcfK4,ctcfK9]);
function genePanel(l,r,geneY,xmax,line,exons,introns,arrows){
  panel({l,r,t:geneY-15,b:geneY+15,ml:0,mr:10,mt:0,mb:0,
    x:{domain:[22,xmax],axis:null},y:{domain:[-15,15],axis:null},
    marks:[
      Plot.ruleY([0],{x1:line[0],x2:line[1],stroke:"#333",strokeWidth:1.3}),
      Plot.rect(exons,{x1:d=>d[0],x2:d=>d[1],y1:-3.5,y2:3.5,fill:"#000"}),
      Plot.ruleX(introns,{y1:-5,y2:5,stroke:"#000",strokeWidth:1}),
      Plot.dot(arrows,{x:d=>d,y:0,symbol:"triangle",rotate:90,r:1.8,fill:"#1a1aff"})
    ]});
}
genePanel(349,891,1985.4,1490,[397,1490],[[357,397]],[397,450],topArrows);
genePanel(1229,1867,1991,1537,[195,1545],[[195,230],[1043,1055]],[],ctcfArrows);

// ---------- text overlay ----------
const overlay=d3.select(page).append("svg").attr("width",1956).attr("height",2041).style("left",0).style("top",0);
function label(text,x,y,len,{size=28,font=LATO,weight="bold",color="#000",rotate=0,style="normal",stroke=null}={}){
  const t=overlay.append("text").attr("x",x).attr("y",y).text(text)
    .attr("font-family",font).attr("font-size",size).attr("font-weight",weight).attr("font-style",style).attr("fill",color);
  if(len) t.attr("textLength",len).attr("lengthAdjust","spacingAndGlyphs");
  if(rotate) t.attr("transform",`rotate(${rotate} ${x} ${y})`);
  const sw=stroke!==null?stroke:(weight==="bold"&&size>=26?.5:0);
  if(sw) t.attr("stroke",color).attr("stroke-width",sw);
  return t;
}
const AB={font:ARIAL};
// panel letters
label("a",31,37,21,{size:38,...AB});label("b",542,39,25,{size:38,...AB});label("c",1217,37,20,{size:38,...AB});
label("d",86,786,24,{size:38,...AB});label("e",1363,786,23,{size:38,...AB});label("f",2,1465,12,{size:38,...AB});
// a
label("Peak quantification",93.5,93,366,{size:38});
label("Normalization",347,167,187,{size:28});
overlay.append("rect").attr("x",355).attr("y",184).attr("width",23).attr("height",21).attr("fill",DARKRED);
overlay.append("rect").attr("x",354).attr("y",222).attr("width",24).attr("height",21).attr("fill",BLUE);
label("no",400,204.7,32,{size:29,color:DARKRED});
label("yes",397,238.5,43,{size:29,color:BLUE});
label("Time (seconds)",28.5,433.6,227,{size:28,rotate:-90,...AB});
label("BEDTools",123,631,128,{size:27,rotate:-37.4,...AB});
label("BAMscale",252,633,136,{size:27,rotate:-37,...AB});
label("(4 threads)",286,646,103,{size:19,rotate:-37.5,stroke:.3,...AB});
// b
label("Raw read count comparison",649,90.6,530,{size:38});
label("n=33k peaks",863.7,427.6,233.5,{size:41});
label("BEDTools",809,608,142.5,{size:30,...AB});
label("BAMscale",603.5,393.7,146,{size:29,rotate:-90,...AB});
// c
label("Coverage track generation",1307,93,501,{size:38});
label("Coverage track",1758,163,196,{size:28});
overlay.append("rect").attr("x",1767).attr("y",180).attr("width",24).attr("height",21).attr("fill",DARKRED);
overlay.append("rect").attr("x",1767).attr("y",218).attr("width",24).attr("height",21).attr("fill",BLUE);
label("unscaled",1811.5,200,115,{size:29,color:DARKRED});
label("scaled",1817,236,81,{size:29,color:BLUE});
label("IGVTools",1357,189.5,127,{size:32});
label("MACS*",1205.5,244,100.5,{size:32});label("(1 thread, pileup)",1316,244,164.5,{size:21,stroke:.3});
label("MACS**",1162,306,118.5,{size:32});label("(1 thread, callpeak)",1290,306,184,{size:21,stroke:.3});
label("deepTools",1225,368,147.5,{size:32});label("(4 threads)",1380,369,102.6,{size:21,stroke:.3});
label("BAMscale",1239.4,433.6,139.3,{size:32});label("(1 thread)",1389,433.6,92.5,{size:21,stroke:.3});
label("BAMscale",1230.7,493.4,139.3,{size:32});label("(4 threads)",1380,493.4,101.5,{size:21,stroke:.3});
label("Runtime (seconds)",1570,623,266,{size:29,...AB});
// d
label("SLFN11 (-)",230,810,213,{size:43});
label("SLFN11 (+)",769,808,223,{size:43,color:"#a00000"});
label("Untreated (FPKM)",214,1343.6,302,{size:32});
label("Untreated (FPKM)",768,1343.6,301,{size:32});
label("4h CPT treated (FPKM)",80,1234.5,375,{size:33,rotate:-90});
label("4h CPT treated (FPKM)",655,1241,377,{size:33,rotate:-90});
label("Density",1165.6,885.5,98.4,{size:29});
label("(log2)",1165.6,922.6,74.4,{size:29});
// e
label("GIGGLE score",1475,1126,215,{size:32,rotate:-90,...AB});
label("H3K27ac",1548,1339,125,{size:30,rotate:-43,font:ARIAL,weight:"normal",stroke:.5});
label("H3K4me3",1622,1346,129,{size:29,rotate:-43.6,font:ARIAL,weight:"normal",stroke:.5});
label("H3K9ac",1718,1327.6,107,{size:30,rotate:-43.8,font:ARIAL,weight:"normal",stroke:.5});
// f
label("TOP1",488,1499,111,{size:40});
label("promoter",613,1499,199,{size:40,weight:"normal"});
label("CTCF",1376,1500,102,{size:40});
label("promoter",1493,1500,197,{size:40,weight:"normal"});
const sideRows=[
 ["SLFN11(-) untreated",59,1548.5,"#000"],["SLFN11(-) 4h CPT",106,1616.5,"#000"],
 ["SLFN11(+) untreated",53,1691,"#a00000"],["SLFN11(+) 4h CPT",99,1746,"#a00000"]];
sideRows.forEach(([t,x,y,c])=>{label(t,x,y,348-x,{size:29,color:c});label(t,x+890,y,348-x,{size:29,color:c});});
const markRows=[["H3K27ac",203,1827,"#00b0f0"],["H3K4me3",189,1886,"#009999"],["H3K9ac",220,1945,"#548235"]];
markRows.forEach(([t,x,y,c])=>{label(t,x,y,326.5-x,{size:29,color:c});label(t,x+889,y,326.5-x,{size:29,color:c});});
[[157,173],[1046,1064.5]].forEach(([tx,bx])=>{
  label("ENCODE (K562)",tx,1971.6,187.6,{size:26,rotate:-90,color:"#70ad47",weight:"normal",stroke:.4});
  overlay.append("rect").attr("x",bx-2).attr("y",1780).attr("width",4).attr("height",194).attr("fill",'#70ad47');
});
label("TOP1",668.6,2029.6,63,{size:25,style:"italic",stroke:0});
label("CTCF",1483,2031,59,{size:25,style:"italic",stroke:0});
</script></body></html>
